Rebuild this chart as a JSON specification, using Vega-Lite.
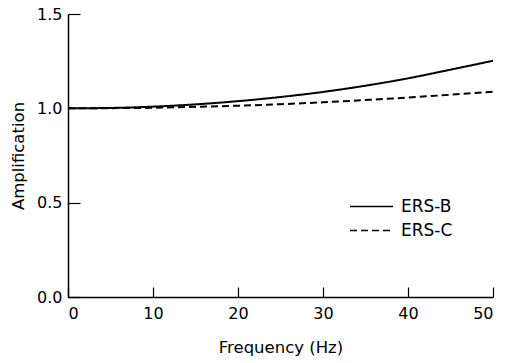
{
  "$schema": "https://vega.github.io/schema/vega-lite/v6.json",
  "width": 425,
  "height": 283,
  "autosize": {"type": "none"},
  "padding": {"left": 68, "top": 14, "right": 16, "bottom": 66},
  "background": "white",
  "config": {
    "view": {"stroke": null},
    "font": "DejaVu Sans",
    "axis": {
      "grid": false,
      "domainColor": "black",
      "domainWidth": 1.5,
      "tickColor": "black",
      "tickWidth": 1.2,
      "labelColor": "black",
      "labelFont": "DejaVu Sans",
      "labelFontSize": 16,
      "titleColor": "black",
      "titleFont": "DejaVu Sans",
      "titleFontSize": 16.5,
      "titleFontWeight": "normal"
    }
  },
  "data": {
    "values": [
      {"f": 0, "amp": 1.0, "series": "ERS-B"},
      {"f": 5, "amp": 1.002, "series": "ERS-B"},
      {"f": 10, "amp": 1.009, "series": "ERS-B"},
      {"f": 15, "amp": 1.021, "series": "ERS-B"},
      {"f": 20, "amp": 1.038, "series": "ERS-B"},
      {"f": 25, "amp": 1.06, "series": "ERS-B"},
      {"f": 30, "amp": 1.087, "series": "ERS-B"},
      {"f": 35, "amp": 1.12, "series": "ERS-B"},
      {"f": 40, "amp": 1.159, "series": "ERS-B"},
      {"f": 45, "amp": 1.205, "series": "ERS-B"},
      {"f": 50, "amp": 1.252, "series": "ERS-B"},
      {"f": 0, "amp": 1.0, "series": "ERS-C"},
      {"f": 5, "amp": 1.001, "series": "ERS-C"},
      {"f": 10, "amp": 1.003, "series": "ERS-C"},
      {"f": 15, "amp": 1.008, "series": "ERS-C"},
      {"f": 20, "amp": 1.014, "series": "ERS-C"},
      {"f": 25, "amp": 1.022, "series": "ERS-C"},
      {"f": 30, "amp": 1.032, "series": "ERS-C"},
      {"f": 35, "amp": 1.044, "series": "ERS-C"},
      {"f": 40, "amp": 1.057, "series": "ERS-C"},
      {"f": 45, "amp": 1.072, "series": "ERS-C"},
      {"f": 50, "amp": 1.088, "series": "ERS-C"}
    ]
  },
  "mark": {"type": "line", "color": "black", "strokeWidth": 2, "interpolate": "monotone"},
  "encoding": {
    "x": {
      "field": "f",
      "type": "quantitative",
      "scale": {"domain": [0, 50], "nice": false, "zero": true},
      "axis": {
        "title": "Frequency (Hz)",
        "values": [0, 10, 20, 30, 40, 50],
        "tickSize": -10,
        "labelPadding": 18,
        "titlePadding": 18
      }
    },
    "y": {
      "field": "amp",
      "type": "quantitative",
      "scale": {"domain": [0, 1.5], "nice": false},
      "axis": {
        "title": "Amplification",
        "values": [0, 0.5, 1, 1.5],
        "format": ".1f",
        "tickSize": -12,
        "labelPadding": 18,
        "titlePadding": 10
      }
    },
    "strokeDash": {
      "field": "series",
      "type": "nominal",
      "scale": {"domain": ["ERS-B", "ERS-C"], "range": [[1, 0], [7, 4]]},
      "legend": {
        "title": null,
        "orient": "none",
        "legendX": 292,
        "legendY": 181,
        "padding": 0,
        "symbolType": "M-2,0H2",
        "symbolSize": 462,
        "symbolStrokeColor": "black",
        "symbolStrokeWidth": 1.5,
        "labelFontSize": 17,
        "labelColor": "black",
        "labelFont": "DejaVu Sans",
        "labelOffset": 18,
        "rowPadding": 4
      }
    }
  }
}
